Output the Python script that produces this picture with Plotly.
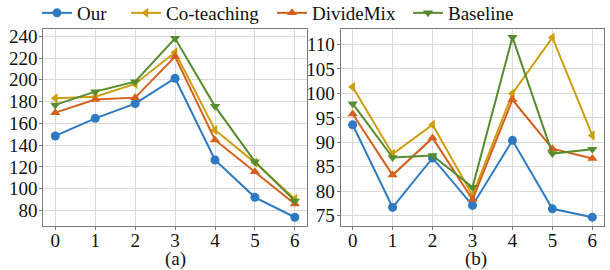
import plotly.graph_objects as go
from plotly.subplots import make_subplots

x_vals = [0, 1, 2, 3, 4, 5, 6]
series_names = ["Our", "Co-teaching", "DivideMix", "Baseline"]

a_our = [148.4, 164.6, 178.1, 201.4, 126.3, 92.0, 73.7]
a_cot = [183.0, 184.5, 196.2, 225.3, 153.9, 123.9, 90.5]
a_dm = [169.8, 181.8, 183.6, 221.3, 144.7, 115.6, 85.9]
a_base = [176.9, 189.1, 198.3, 238.1, 175.6, 124.8, 88.7]

b_our = [93.6, 76.7, 86.8, 77.1, 90.4, 76.4, 74.7]
b_cot = [101.3, 87.6, 93.6, 79.2, 100.0, 111.4, 91.4]
b_dm = [95.8, 83.3, 90.9, 78.3, 98.7, 88.7, 86.7]
b_base = [97.9, 86.9, 87.3, 80.8, 111.5, 87.7, 88.6]

a_yticks = [80, 100, 120, 140, 160, 180, 200, 220, 240]
b_yticks = [75, 80, 85, 90, 95, 100, 105, 110]
panel_labels = ["(a)", "(b)"]

colors = ["#2e7ac2", "#cc9e10", "#d5601c", "#568c2c"]
symbols = ["circle", "triangle-left", "triangle-up", "triangle-down"]
legend_ids = ["legend", "legend2", "legend3", "legend4"]
legend_x_px = [37, 126, 272, 408]

FAM = "Times New Roman"
font = dict(family=FAM, size=19, color="#111111")

fig = make_subplots(rows=1, cols=2, horizontal_spacing=0.05)
for col, data in ((1, [a_our, a_cot, a_dm, a_base]), (2, [b_our, b_cot, b_dm, b_base])):
    for name, ys, c, s, lid in zip(series_names, data, colors, symbols, legend_ids):
        fig.add_trace(go.Scatter(
            x=x_vals, y=ys, mode="lines+markers", name=name,
            line=dict(color=c, width=2),
            marker=dict(symbol=s, size=9, color=c),
            showlegend=(col == 1), legend=lid,
        ), row=1, col=col)

axis_common = dict(showgrid=True, gridcolor="#d9d9d9", gridwidth=1,
                   showline=True, linecolor="#7a7a7a", linewidth=1.2, mirror=True,
                   ticks="outside", ticklen=3, tickcolor="#7a7a7a", zeroline=False,
                   tickfont=dict(family=FAM, size=19, color="#111111"),
                   automargin=False)

fig.update_xaxes(**axis_common, range=[-0.3, 6.3], tickvals=x_vals, ticklabelstandoff=-6)
fig.update_xaxes(domain=[0.071, 0.503], row=1, col=1)
fig.update_xaxes(domain=[0.5585, 0.9907], row=1, col=2)
fig.update_yaxes(**axis_common, ticklabelstandoff=-2)
fig.update_yaxes(range=[65.9, 246.4], tickvals=a_yticks, domain=[0.164, 0.8915], row=1, col=1)
fig.update_yaxes(range=[72.95, 113.1], tickvals=b_yticks, domain=[0.164, 0.8915], row=1, col=2)

for lab, xc in zip(panel_labels, [175 / 610, 476 / 610]):
    fig.add_annotation(text=lab, x=xc, y=1 - 259 / 270, xref="paper", yref="paper",
                       xanchor="center", yanchor="middle", showarrow=False, font=font,
                       borderpad=0)

legend_layout = {}
for lid, xp in zip(legend_ids, legend_x_px):
    legend_layout[lid] = dict(orientation="h", x=xp / 610, y=1 - 13 / 270,
                              xanchor="left", yanchor="middle", font=font,
                              bgcolor="rgba(0,0,0,0)", borderwidth=0)

fig.update_layout(
    width=610, height=270,
    margin=dict(l=0, r=0, t=0, b=0, autoexpand=False),
    paper_bgcolor="white", plot_bgcolor="white",
    font=font,
    **legend_layout,
)
fig.write_html("out.html", config={"displayModeBar": False},
               post_script="document.body.style.margin='0';")
